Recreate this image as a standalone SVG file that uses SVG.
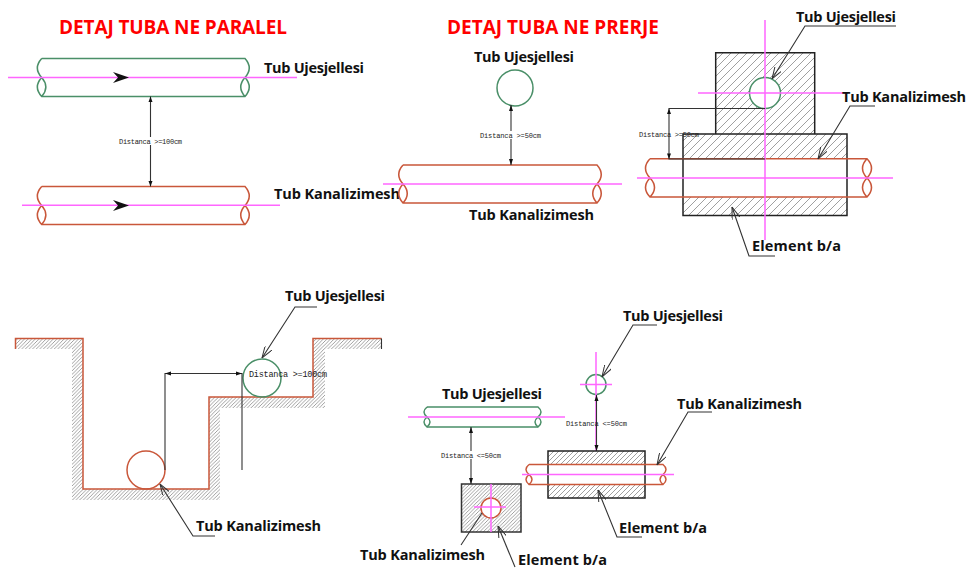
<svg xmlns="http://www.w3.org/2000/svg" width="967" height="569" viewBox="0 0 967 569">
<style>
text{font-family:"Open Sans","Noto Sans","Liberation Sans",sans-serif;fill:#111}
.title{font-size:19px;font-weight:700;fill:#f00}
.lab{font-size:14.5px;font-weight:700}
.dimt{font-family:"Liberation Mono","DejaVu Sans Mono",monospace;font-size:7px;fill:#222}
.g{fill:#fff;stroke:#4a8f68;stroke-width:1.5}
.r{fill:#fff;stroke:#c9573a;stroke-width:1.5}
.rn{fill:none;stroke:#c9573a;stroke-width:1.5}
.p{fill:none;stroke:#ff66ff;stroke-width:1.5}
.b{fill:none;stroke:#222;stroke-width:1.5}
.k{fill:none;stroke:#333;stroke-width:1.1}
.lead{marker-end:url(#la)}
</style>
<defs>
<pattern id="h8" width="8" height="8" patternUnits="userSpaceOnUse"><path d="M-1 9L9 -1M-1 1L1 -1M7 9L9 7" stroke="#888" stroke-width=".8"/></pattern>
<pattern id="h5" width="5" height="5" patternUnits="userSpaceOnUse"><path d="M-1 6L6 -1M-1 1L1 -1M4 6L6 4" stroke="#888" stroke-width=".8"/></pattern>
<pattern id="h4" width="3.6" height="3.6" patternUnits="userSpaceOnUse"><path d="M-1 4.6L4.6 -1M-1 1L1 -1M2.6 4.6L4.6 2.6" stroke="#888" stroke-width=".8"/></pattern>
<marker id="la" viewBox="0 0 12 8" refX="12" refY="4" markerUnits="userSpaceOnUse" markerWidth="12" markerHeight="8" orient="auto"><path d="M0 0L12 4L0 8M3 1L12 4L3 7" fill="none" stroke="#333" stroke-width="1"/></marker>
</defs>

<g id="titles">
<text class="title" x="59" y="34" textLength="228">DETAJ TUBA NE PARALEL</text>
<text class="title" x="447" y="34" textLength="212">DETAJ TUBA NE PRERJE</text>
</g>

<g id="parallel-water-pipe">
<path class="g" d="M41.7 58.5H245Q253.5 68 245 77.5Q253.5 87 245 96.5H41.7Q33 87 41.7 77.5Q33 68 41.7 58.5M41.7 77.5Q50 87 41.7 96.5M245 77.5Q236.5 87 245 96.5"/>
<path class="p" d="M8 77.5H297"/>
<path d="M113 72L129 77.5L113 83L118 77.5Z" fill="#111"/>
<text class="lab" x="264" y="73" textLength="100">Tub Ujesjellesi</text>
</g>
<g id="parallel-sewer-pipe">
<path class="r" d="M41.7 186.5H245Q253.5 196 245 205.5Q253.5 215 245 224.5H41.7Q33 215 41.7 205.5Q33 196 41.7 186.5M41.7 205.5Q50 215 41.7 224.5M245 205.5Q236.5 215 245 224.5"/>
<path class="p" d="M22 205.3H280"/>
<path d="M113 200L129 205.5L113 211L118 205.5Z" fill="#111"/>
<text class="lab" x="274" y="199" textLength="126">Tub Kanalizimesh</text>
</g>

<g id="section-water-pipe">
<circle class="g" cx="515" cy="88" r="18"/>
<text class="lab" x="474" y="62" textLength="100">Tub Ujesjellesi</text>
</g>
<g id="section-sewer-pipe">
<path class="r" d="M403 165H597Q605.500 174.500 597 184Q605.500 193.500 597 203H403Q394.500 193.500 403 184Q394.500 174.500 403 165M403 184Q411.500 193.500 403 203M597 184Q588.500 193.500 597 203"/>
<path class="p" d="M383 184H622"/>
<text class="lab" x="469" y="220" textLength="125">Tub Kanalizimesh</text>
</g>

<g id="encased-crossing">
<rect x="715.700" y="52.700" width="99" height="81.300" fill="url(#h8)"/>
<rect x="683" y="134" width="164" height="81.500" fill="url(#h8)"/>
<path d="M650 158.700H867Q876 168 867 178Q876 187.500 867 197H650Q641 187.500 650 178Q641 168 650 158.700Z" fill="#fff"/>
<path class="b" d="M715.700 134V52.700H814.700V134M683 134H847V215.500H683Z"/>
<path class="rn" d="M650 158.700H867Q876 168 867 178Q876 187.500 867 197H650Q641 187.500 650 178Q641 168 650 158.700M650 178Q659 187.500 650 197M867 178Q858 187.500 867 197M867 158.700Q858 168 867 178"/>
<circle class="g" cx="765" cy="93" r="15.500"/>
<path class="p" d="M765 20V240M698 93H845M637 178H893"/>
<text class="lab" x="796" y="22" textLength="100">Tub Ujesjellesi</text>
<text class="lab" x="842" y="102" textLength="124">Tub Kanalizimesh</text>
<text class="lab" x="752" y="251" textLength="89">Element b/a</text>
</g>

<g id="trench">
<path d="M15 338H83V489H209V397H313V338H381V349H325V408H220V500H72V349H15Z" fill="url(#h4)"/>
<path class="rn" d="M15.500 349V338.500H83V489H209V397H313V338.500H381.500"/>
<path class="k" d="M381.500 338.500V349"/>
<circle class="r" cx="146" cy="470" r="19" style="fill:none"/>
<circle class="g" cx="262" cy="378" r="19" style="fill:none"/>
<text class="lab" x="285" y="301" textLength="100">Tub Ujesjellesi</text>
<text class="lab" x="196" y="531" textLength="125">Tub Kanalizimesh</text>
</g>

<g id="offset-water-pipe">
<path class="g" d="M427 407H538Q544 412 538 417Q544 422 538 427H427Q421 422 427 417Q421 412 427 407"/>
<path class="g" style="fill:none" d="M427 417Q433 422 427 427M538 417Q532 422 538 427"/>
<path class="p" d="M408 417H565"/>
<text class="lab" x="442" y="399" textLength="100">Tub Ujesjellesi</text>
</g>
<g id="offset-sewer-block">
<rect x="461.500" y="484" width="59.500" height="48" fill="url(#h4)" stroke="#333" stroke-width="1.500"/>
<circle class="r" cx="491" cy="508" r="10"/>
<path class="p" d="M491 484V532M474 507H506"/>
<text class="lab" x="360" y="560" textLength="125">Tub Kanalizimesh</text>
<text class="lab" x="518" y="564.500" textLength="89">Element b/a</text>
</g>
<g id="offset-water-circle">
<circle class="g" cx="596" cy="384.500" r="10"/>
<path class="p" d="M596 352V451M580 384.500H612"/>
<text class="lab" x="623" y="321" textLength="100">Tub Ujesjellesi</text>
</g>
<g id="offset-sewer-pipe">
<rect x="548" y="451" width="97" height="47" fill="url(#h5)"/>
<path d="M529 464.500H663Q669 469.500 663 474.500Q669 479.500 663 484.500H529Q523 479.500 529 474.500Q523 469.500 529 464.500Z" fill="#fff"/>
<rect class="b" x="548" y="451" width="97" height="47"/>
<path class="rn" d="M529 464.500H663Q669 469.500 663 474.500Q669 479.500 663 484.500H529Q523 479.500 529 474.500Q523 469.500 529 464.500M529 474.500Q535 479.500 529 484.500M663 474.500Q657 479.500 663 484.500"/>
<path class="p" d="M522 474.500H674"/>
<text class="lab" x="677" y="409" textLength="125">Tub Kanalizimesh</text>
<text class="lab" x="619" y="533" textLength="88">Element b/a</text>
</g>

<g id="connectors">
<path class="k" d="M150.500 96.500V137M150.500 145V186.500"/>
<path d="M148.500 102L150.500 96.500L152.500 102ZM148.500 181L150.500 186.500L152.500 181Z" fill="#111"/>
<path class="k" d="M511 105V131M511 139V165"/>
<path d="M509 111L511 105L513 111ZM509 159L511 165L513 159Z" fill="#111"/>
<path class="k" d="M765 108.500H669V159H765"/>
<path d="M667 114L669 108.500L671 114ZM667 153.500L669 159L671 153.500Z" fill="#111"/>
<path class="k" d="M165 470V373.500H242V470"/>
<path d="M171 371.500L165 373.500L171 375.500ZM236 371.500L242 373.500L236 375.500Z" fill="#111"/>
<path class="k" d="M471 427V451M471 459V484"/>
<path d="M469 433L471 427L473 433ZM469 478L471 484L473 478Z" fill="#111"/>
<path class="k" d="M596.500 395V451"/>
<path d="M594.500 401L596.500 395L598.500 401ZM594.500 445L596.500 451L598.500 445Z" fill="#111"/>

<path class="k lead" d="M896 26H805L772 79"/>
<path class="k lead" d="M875 106H850L818 159"/>
<path class="k lead" d="M775 256H749L732 207"/>
<path class="k lead" d="M317 307H295L262 358"/>
<path class="k lead" d="M215 536H193L160 484"/>
<path class="k" d="M461 545L482 513"/>
<path class="k lead" d="M515 567L498 526"/>
<path class="k lead" d="M657 325H633L602 377"/>
<path class="k lead" d="M712 412H688L657 465"/>
<path class="k lead" d="M642 537H617L598 490"/>
</g>

<g id="distance-labels">
<text class="dimt" x="119" y="143.500" textLength="63">Distanca &gt;=100cm</text>
<text class="dimt" x="480" y="137.500" textLength="61">Distanca &gt;=50cm</text>
<text class="dimt" x="639" y="136.500" textLength="60">Distanca &gt;=50cm</text>
<text class="dimt" x="249" y="377" textLength="78" style="font-size:8.500px">Distanca &gt;=100cm</text>
<text class="dimt" x="441" y="458" textLength="60">Distanca &lt;=50cm</text>
<text class="dimt" x="566" y="425.500" textLength="61">Distanca &lt;=50cm</text>
</g>
</svg>
